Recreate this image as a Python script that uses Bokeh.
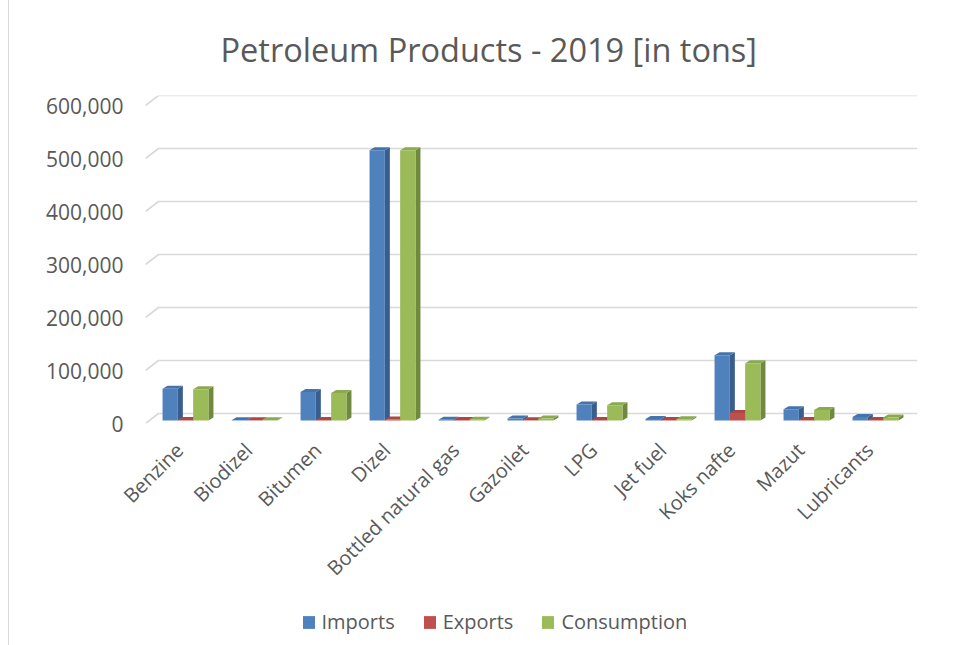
import numpy as np
from bokeh.plotting import figure
from bokeh.layouts import column, row
from bokeh.models import (Range1d, FixedTicker, NumeralTickFormatter,
                          Legend, LegendItem, Div)
from bokeh.embed import file_html
from bokeh.resources import INLINE

categories = ["Benzine", "Biodizel", "Bitumen", "Dizel", "Bottled natural gas",
              "Gazoilet", "LPG", "Jet fuel", "Koks nafte", "Mazut", "Lubricants"]
imports = [60000, 500, 54000, 510000, 1500, 4000, 30000, 3000, 123000, 21000, 6500]
exports = [1000, 500, 1000, 2000, 800, 600, 1000, 800, 14000, 1000, 1000]
consumption = [59000, 500, 52000, 510000, 1500, 4000, 29000, 2500, 108000, 20000, 5500]
series_names = ["Imports", "Exports", "Consumption"]
y_ticks = [0, 100000, 200000, 300000, 400000, 500000, 600000]

front_colors = ["#4F81BD", "#C0504D", "#9BBB59"]
side_colors = ["#395E8D", "#8E3A38", "#6F8A3E"]
top_colors = ["#4573AC", "#AD4744", "#8BAA4F"]

TXT = "#595959"
FONT = "Open Sans"

PX_PER_CAT = 69.0
PX_PER_VAL = 53.0 / 100000.0
x_start = -40.0 / PX_PER_CAT
x_end = (917.0 - 185.0) / PX_PER_CAT
y_end = 600000 + 10.0 / PX_PER_VAL

EDGE = 9
FIG_W = 956 - EDGE
MAIN_H = 600
p = figure(width=FIG_W, height=MAIN_H, output_backend="svg", toolbar_location=None,
           x_range=Range1d(x_start, x_end), y_range=Range1d(0, y_end),
           min_border_left=145 - EDGE, min_border_right=39, min_border_top=95,
           min_border_bottom=MAIN_H - 423, background_fill_color="white",
           border_fill_color="white")
p.outline_line_color = None
p.xgrid.visible = False
p.ygrid.visible = False

# back-wall gridlines with perspective stubs
wall_dx = 13.0 / PX_PER_CAT
wall_dy = 10.0 / PX_PER_VAL
gx, gy = [], []
for v in y_ticks:
    gx.append([x_start, x_start + wall_dx, x_end])
    gy.append([v, v + wall_dy, v + wall_dy])
p.multi_line(gx, gy, line_color="#D9D9D9", line_width=1.6)

# 3D bars
w = 15.3 / PX_PER_CAT
bdx = 5.0 / PX_PER_CAT
bdy = 3.0 / PX_PER_VAL
base = 3.0 / PX_PER_VAL
for s, vals in enumerate([imports, exports, consumption]):
    x0 = np.arange(len(categories)) + (s - 1.5) * w
    x1 = x0 + w
    y0 = np.full(len(categories), base)
    y1 = base + np.array(vals, dtype=float)
    side_x = [[a, a + bdx, a + bdx, a] for a in x1]
    side_y = [[b0, b0 + bdy, b1 + bdy, b1] for b0, b1 in zip(y0, y1)]
    top_x = [[a0, a0 + bdx, a1 + bdx, a1] for a0, a1 in zip(x0, x1)]
    top_y = [[b1, b1 + bdy, b1 + bdy, b1] for b1 in y1]
    p.patches(side_x, side_y, fill_color=side_colors[s], line_color=None)
    p.patches(top_x, top_y, fill_color=top_colors[s], line_color=None)
    p.quad(left=x0, right=x1, bottom=y0, top=y1,
           fill_color=front_colors[s], line_color=None)

# axes
p.yaxis.ticker = FixedTicker(ticks=y_ticks)
p.yaxis.formatter = NumeralTickFormatter(format="0,0")
p.yaxis.axis_line_color = None
p.yaxis.major_tick_line_color = None
p.yaxis.minor_tick_line_color = None
p.yaxis.major_tick_out = 0
p.yaxis.major_label_standoff = 22
p.yaxis.major_label_text_font = FONT
p.yaxis.major_label_text_font_size = "21px"
p.yaxis.major_label_text_color = TXT

label_shift = -6.0 / PX_PER_CAT
x_ticks = [i + label_shift for i in range(len(categories))]
p.xaxis.ticker = FixedTicker(ticks=x_ticks)
p.xaxis.major_label_overrides = {t: c for t, c in zip(x_ticks, categories)}
p.xaxis.major_label_orientation = np.pi / 4
p.xaxis.axis_line_color = None
p.xaxis.major_tick_line_color = None
p.xaxis.minor_tick_line_color = None
p.xaxis.major_tick_out = 0
p.xaxis.major_label_standoff = 23
p.xaxis.major_label_text_font = FONT
p.xaxis.major_label_text_font_size = "20px"
p.xaxis.major_label_text_color = TXT

# title
p.title.text = "Petroleum Products - 2019 [in tons]"
p.title.align = "left"
p.title.offset = 75
p.title.standoff = 47
p.title.text_font = FONT
p.title.text_font_size = "32.5px"
p.title.text_font_style = "normal"
p.title.text_color = TXT

# legend strip
LEG_H = 645 - MAIN_H
p2 = figure(width=FIG_W, height=LEG_H, output_backend="svg", toolbar_location=None,
            x_range=Range1d(0, 1), y_range=Range1d(0, 1),
            x_axis_type=None, y_axis_type=None,
            min_border_left=0, min_border_right=0, min_border_top=0,
            min_border_bottom=0, background_fill_color="white",
            border_fill_color="white")
p2.outline_line_color = None
p2.xgrid.visible = False
p2.ygrid.visible = False
items = []
for s in range(3):
    r = p2.quad(left=[0], right=[0], bottom=[0], top=[0],
                fill_color=front_colors[s], line_color=None)
    items.append(LegendItem(label=series_names[s], renderers=[r]))
legend = Legend(items=items, orientation="horizontal",
                location=(155.5, 10), glyph_width=15, glyph_height=16,
                label_standoff=6, spacing=27, padding=0, margin=0,
                border_line_color=None, background_fill_alpha=0,
                label_text_font=FONT, label_text_font_size="20px",
                label_text_color=TXT)
p2.add_layout(legend, "center")

edge = Div(text="", width=EDGE, height=645, margin=0,
           styles={"border-right": "1px solid #D9D9D9", "box-sizing": "border-box"})

layout = row(edge, column(p, p2, spacing=0), spacing=0)
open("out.html", "w").write(file_html(layout, INLINE))
